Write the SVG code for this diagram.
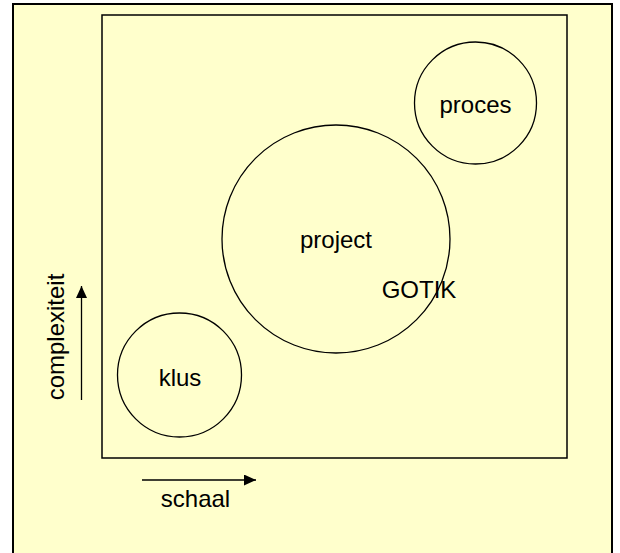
<svg xmlns="http://www.w3.org/2000/svg" width="620" height="553" viewBox="0 0 620 553">
  <defs>
    <style>
      .frame { fill: #FFFFCC; stroke: #000; stroke-width: 2; }
      .plot { fill: none; stroke: #000; stroke-width: 1.5; }
      .bubble { fill: none; stroke: #000; stroke-width: 1.3; }
      .axis { fill: none; stroke: #000; stroke-width: 1.3; }
      .lbl { font-family: "Liberation Sans", Arial, sans-serif; font-size: 24px; fill: #000; text-anchor: middle; }
    </style>
    <marker id="head" viewBox="0 0 12 11" refX="12" refY="5.5" markerWidth="12" markerHeight="11" markerUnits="userSpaceOnUse" orient="auto">
      <path d="M0,0 L12,5.5 L0,11 Z" fill="#000"/>
    </marker>
  </defs>

  <rect x="0" y="0" width="620" height="553" fill="#fff"/>
  <rect x="13" y="4" width="599" height="565" class="frame"/>
  <rect x="102" y="15" width="465" height="443" class="plot"/>

  <g id="connectors">
    <line x1="81.5" y1="400" x2="81.5" y2="286" class="axis" marker-end="url(#head)"/>
    <line x1="142" y1="480" x2="256" y2="480" class="axis" marker-end="url(#head)"/>
  </g>

  <g id="node-proces">
    <circle cx="475.5" cy="103" r="61" class="bubble"/>
    <text x="475.5" y="113" class="lbl">proces</text>
  </g>

  <g id="node-project">
    <circle cx="336" cy="239" r="114" class="bubble"/>
    <text x="336" y="248" class="lbl">project</text>
  </g>

  <g id="node-klus">
    <circle cx="179.5" cy="375" r="62" class="bubble"/>
    <text x="180" y="386" class="lbl">klus</text>
  </g>

  <g id="node-gotik">
    <text x="419" y="298" class="lbl">GOTIK</text>
  </g>

  <g id="axis-labels">
    <text x="0" y="0" class="lbl" transform="translate(64 337) rotate(-90)">complexiteit</text>
    <text x="195.5" y="507" class="lbl">schaal</text>
  </g>
</svg>
